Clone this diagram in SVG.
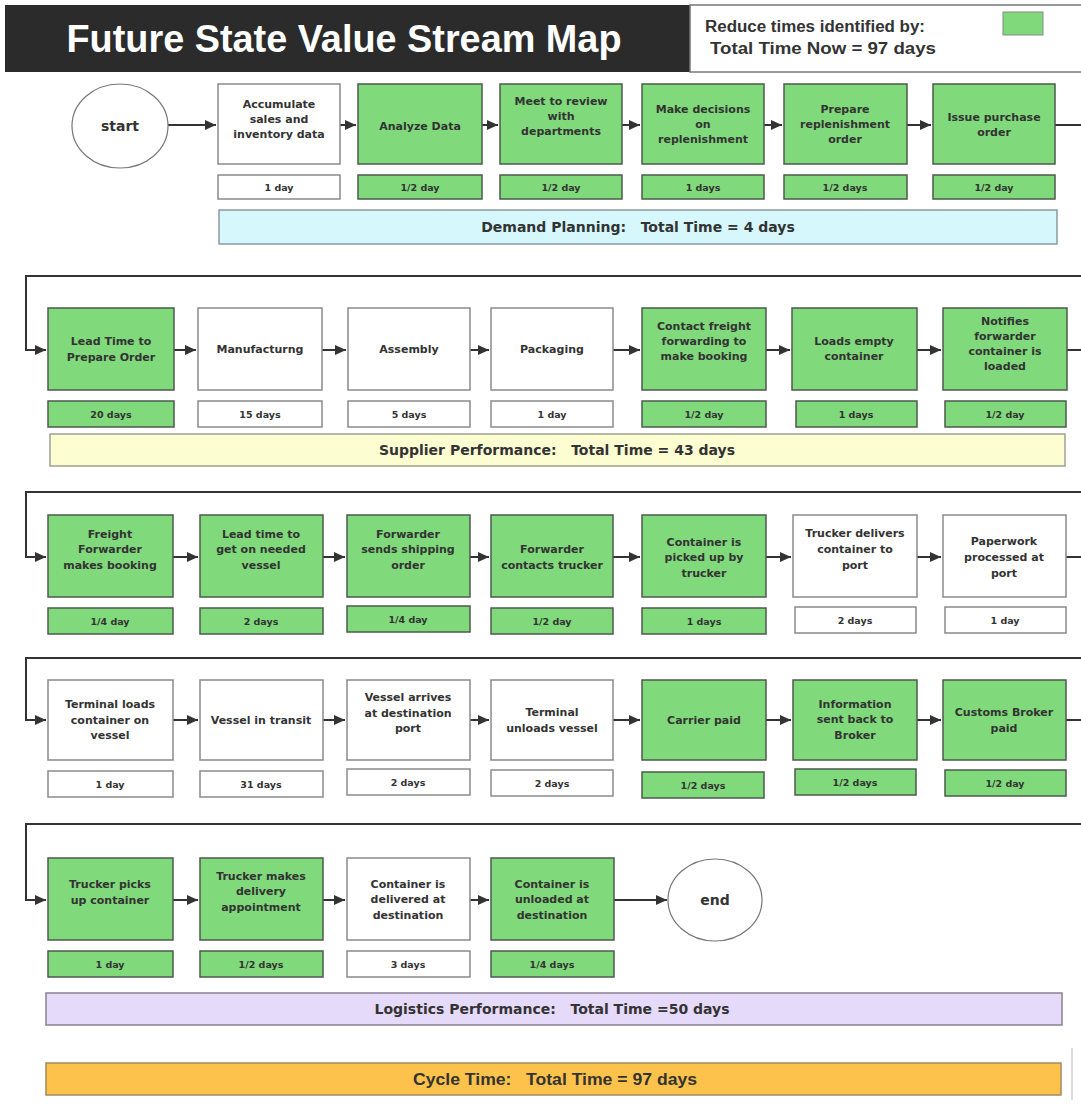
<svg xmlns="http://www.w3.org/2000/svg" width="1081" height="1115" viewBox="0 0 1081 1115" xml:space="preserve">
<defs>
<marker id="ah" markerWidth="12" markerHeight="12" refX="11" refY="6" orient="auto" markerUnits="userSpaceOnUse">
<path d="M0,1 L11,6 L0,11 Z" fill="#333"/>
</marker>
<style>
text{white-space:pre}
.g{fill:#80d97b;stroke:#4d5a4d;stroke-width:1.5}
.w{fill:#fff;stroke:#8a8a8a;stroke-width:1.5}
.t{font-family:"DejaVu Sans",Verdana,sans-serif;font-weight:bold;font-size:11px;fill:#333;text-anchor:middle}
.s{font-family:"DejaVu Sans",Verdana,sans-serif;font-weight:bold;font-size:9.5px;fill:#333;text-anchor:middle}
.b{font-family:"DejaVu Sans",Verdana,sans-serif;font-weight:bold;font-size:14px;fill:#333;text-anchor:middle}
.c{fill:none;stroke:#333;stroke-width:2}
.e{fill:#fff;stroke:#777;stroke-width:1.2}
</style>
</defs>
<g id="header"><rect x="5" y="5" width="685" height="67" fill="#2b2b2b"/><rect x="690" y="5" width="395" height="67" fill="#fff" stroke="#777" stroke-width="1.5"/><text x="344" y="52" font-family="Liberation Sans,Arial,sans-serif" font-weight="bold" font-size="38" fill="#fff" text-anchor="middle" textLength="555" lengthAdjust="spacingAndGlyphs">Future State Value Stream Map</text><text x="705" y="32" font-family="Liberation Sans,Arial,sans-serif" font-weight="bold" font-size="16" fill="#333" textLength="220" lengthAdjust="spacingAndGlyphs">Reduce times identified by:</text><text x="710" y="54" font-family="Liberation Sans,Arial,sans-serif" font-weight="bold" font-size="16" fill="#333" textLength="226" lengthAdjust="spacingAndGlyphs">Total Time Now = 97 days</text><rect x="1003" y="12" width="40" height="23" fill="#80d97b" stroke="#888" stroke-width="1"/></g>
<g id="connectors">
<line class="c" x1="168" y1="125" x2="216" y2="125" marker-end="url(#ah)"/>
<line class="c" x1="340" y1="125" x2="356" y2="125" marker-end="url(#ah)"/>
<line class="c" x1="482" y1="125" x2="498" y2="125" marker-end="url(#ah)"/>
<line class="c" x1="622" y1="125" x2="640" y2="125" marker-end="url(#ah)"/>
<line class="c" x1="764" y1="125" x2="782" y2="125" marker-end="url(#ah)"/>
<line class="c" x1="907" y1="125" x2="931" y2="125" marker-end="url(#ah)"/>
<line class="c" x1="1055" y1="125" x2="1081" y2="125"/>
<path class="c" d="M1081,276 L26,276 L26,350 L46,350" marker-end="url(#ah)"/>
<line class="c" x1="174" y1="350" x2="196" y2="350" marker-end="url(#ah)"/>
<line class="c" x1="322" y1="350" x2="346" y2="350" marker-end="url(#ah)"/>
<line class="c" x1="470" y1="350" x2="489" y2="350" marker-end="url(#ah)"/>
<line class="c" x1="613" y1="350" x2="640" y2="350" marker-end="url(#ah)"/>
<line class="c" x1="766" y1="350" x2="790" y2="350" marker-end="url(#ah)"/>
<line class="c" x1="917" y1="350" x2="941" y2="350" marker-end="url(#ah)"/>
<line class="c" x1="1067" y1="350" x2="1081" y2="350"/>
<path class="c" d="M1081,492 L26,492 L26,557 L46,557" marker-end="url(#ah)"/>
<line class="c" x1="173" y1="557" x2="198" y2="557" marker-end="url(#ah)"/>
<line class="c" x1="323" y1="557" x2="345" y2="557" marker-end="url(#ah)"/>
<line class="c" x1="470" y1="557" x2="489" y2="557" marker-end="url(#ah)"/>
<line class="c" x1="613" y1="557" x2="640" y2="557" marker-end="url(#ah)"/>
<line class="c" x1="766" y1="557" x2="791" y2="557" marker-end="url(#ah)"/>
<line class="c" x1="917" y1="557" x2="941" y2="557" marker-end="url(#ah)"/>
<line class="c" x1="1066" y1="557" x2="1081" y2="557"/>
<path class="c" d="M1081,658 L26,658 L26,720 L46,720" marker-end="url(#ah)"/>
<line class="c" x1="173" y1="720" x2="198" y2="720" marker-end="url(#ah)"/>
<line class="c" x1="323" y1="720" x2="345" y2="720" marker-end="url(#ah)"/>
<line class="c" x1="470" y1="720" x2="489" y2="720" marker-end="url(#ah)"/>
<line class="c" x1="613" y1="720" x2="640" y2="720" marker-end="url(#ah)"/>
<line class="c" x1="766" y1="720" x2="791" y2="720" marker-end="url(#ah)"/>
<line class="c" x1="917" y1="720" x2="941" y2="720" marker-end="url(#ah)"/>
<line class="c" x1="1066" y1="720" x2="1081" y2="720"/>
<path class="c" d="M1081,824 L26,824 L26,900 L46,900" marker-end="url(#ah)"/>
<line class="c" x1="173" y1="900" x2="198" y2="900" marker-end="url(#ah)"/>
<line class="c" x1="323" y1="900" x2="345" y2="900" marker-end="url(#ah)"/>
<line class="c" x1="470" y1="900" x2="489" y2="900" marker-end="url(#ah)"/>
<line class="c" x1="614" y1="900" x2="667" y2="900" marker-end="url(#ah)"/>
</g>
<g id="start"><ellipse class="e" cx="120" cy="126" rx="48" ry="42"/><text class="b" x="120" y="131">start</text></g>
<g id="n1"><rect class="w" x="218" y="84" width="122" height="80"/><text class="t" x="279" y="108">Accumulate</text><text class="t" x="279" y="123">sales and</text><text class="t" x="279" y="138">inventory data</text></g>
<g id="n1t"><rect class="w" x="218" y="175" width="122" height="24"/><text class="s" x="279" y="191">1 day</text></g>
<g id="n2"><rect class="g" x="358" y="84" width="124" height="80"/><text class="t" x="420" y="130">Analyze Data</text></g>
<g id="n2t"><rect class="g" x="358" y="175" width="124" height="24"/><text class="s" x="420" y="191">1/2 day</text></g>
<g id="n3"><rect class="g" x="500" y="84" width="122" height="80"/><text class="t" x="561" y="105">Meet to review</text><text class="t" x="561" y="120">with</text><text class="t" x="561" y="135">departments</text></g>
<g id="n3t"><rect class="g" x="500" y="175" width="122" height="24"/><text class="s" x="561" y="191">1/2 day</text></g>
<g id="n4"><rect class="g" x="642" y="84" width="122" height="80"/><text class="t" x="703" y="113">Make decisions</text><text class="t" x="703" y="128">on</text><text class="t" x="703" y="143">replenishment</text></g>
<g id="n4t"><rect class="g" x="642" y="175" width="122" height="24"/><text class="s" x="703" y="191">1 days</text></g>
<g id="n5"><rect class="g" x="784" y="84" width="123" height="80"/><text class="t" x="845" y="113">Prepare</text><text class="t" x="845" y="128">replenishment</text><text class="t" x="845" y="143">order</text></g>
<g id="n5t"><rect class="g" x="784" y="175" width="123" height="24"/><text class="s" x="845" y="191">1/2 days</text></g>
<g id="n6"><rect class="g" x="933" y="84" width="122" height="80"/><text class="t" x="994" y="121">Issue purchase</text><text class="t" x="994" y="136">order</text></g>
<g id="n6t"><rect class="g" x="933" y="175" width="122" height="24"/><text class="s" x="994" y="191">1/2 day</text></g>
<g id="bar1"><rect x="219" y="210" width="838" height="34" fill="#d6f7fc" stroke="#8a9a9e" stroke-width="1.5"/><text class="b" x="638" y="232">Demand Planning:   Total Time = 4 days</text></g>
<g id="r2a"><rect class="g" x="48" y="308" width="126" height="82"/><text class="t" x="111" y="345">Lead Time to</text><text class="t" x="111" y="361">Prepare Order</text></g>
<g id="r2at"><rect class="g" x="48" y="401" width="126" height="26"/><text class="s" x="111" y="418">20 days</text></g>
<g id="r2b"><rect class="w" x="198" y="308" width="124" height="82"/><text class="t" x="260" y="353">Manufacturng</text></g>
<g id="r2bt"><rect class="w" x="198" y="401" width="124" height="26"/><text class="s" x="260" y="418">15 days</text></g>
<g id="r2c"><rect class="w" x="348" y="308" width="122" height="82"/><text class="t" x="409" y="353">Assembly</text></g>
<g id="r2ct"><rect class="w" x="348" y="401" width="122" height="26"/><text class="s" x="409" y="418">5 days</text></g>
<g id="r2d"><rect class="w" x="491" y="308" width="122" height="82"/><text class="t" x="552" y="353">Packaging</text></g>
<g id="r2dt"><rect class="w" x="491" y="401" width="122" height="26"/><text class="s" x="552" y="418">1 day</text></g>
<g id="r2e"><rect class="g" x="642" y="308" width="124" height="82"/><text class="t" x="704" y="330">Contact freight</text><text class="t" x="704" y="345">forwarding to</text><text class="t" x="704" y="360">make booking</text></g>
<g id="r2et"><rect class="g" x="642" y="401" width="124" height="26"/><text class="s" x="704" y="418">1/2 day</text></g>
<g id="r2f"><rect class="g" x="792" y="308" width="125" height="82"/><text class="t" x="854" y="345">Loads empty</text><text class="t" x="854" y="360">container</text></g>
<g id="r2ft"><rect class="g" x="796" y="401" width="121" height="26"/><text class="s" x="856" y="418">1 days</text></g>
<g id="r2g"><rect class="g" x="943" y="308" width="124" height="82"/><text class="t" x="1005" y="325">Notifies</text><text class="t" x="1005" y="340">forwarder</text><text class="t" x="1005" y="355">container is</text><text class="t" x="1005" y="370">loaded</text></g>
<g id="r2gt"><rect class="g" x="945" y="401" width="121" height="26"/><text class="s" x="1005" y="418">1/2 day</text></g>
<g id="bar2"><rect x="50" y="434" width="1015" height="32" fill="#fdfdd2" stroke="#a0a090" stroke-width="1.5"/><text class="b" x="557" y="455">Supplier Performance:   Total Time = 43 days</text></g>
<g id="r3a"><rect class="g" x="48" y="515" width="125" height="82"/><text class="t" x="110" y="538">Freight</text><text class="t" x="110" y="553">Forwarder</text><text class="t" x="110" y="569">makes booking</text></g>
<g id="r3at"><rect class="g" x="48" y="608" width="125" height="26"/><text class="s" x="110" y="625">1/4 day</text></g>
<g id="r3b"><rect class="g" x="200" y="515" width="123" height="82"/><text class="t" x="261" y="538">Lead time to</text><text class="t" x="261" y="553">get on needed</text><text class="t" x="261" y="569">vessel</text></g>
<g id="r3bt"><rect class="g" x="200" y="608" width="123" height="26"/><text class="s" x="261" y="625">2 days</text></g>
<g id="r3c"><rect class="g" x="347" y="515" width="123" height="82"/><text class="t" x="408" y="538">Forwarder</text><text class="t" x="408" y="553">sends shipping</text><text class="t" x="408" y="569">order</text></g>
<g id="r3ct"><rect class="g" x="347" y="606" width="123" height="26"/><text class="s" x="408" y="623">1/4 day</text></g>
<g id="r3d"><rect class="g" x="491" y="515" width="122" height="82"/><text class="t" x="552" y="553">Forwarder</text><text class="t" x="552" y="569">contacts trucker</text></g>
<g id="r3dt"><rect class="g" x="491" y="608" width="122" height="26"/><text class="s" x="552" y="625">1/2 day</text></g>
<g id="r3e"><rect class="g" x="642" y="515" width="124" height="82"/><text class="t" x="704" y="546">Container is</text><text class="t" x="704" y="561">picked up by</text><text class="t" x="704" y="577">trucker</text></g>
<g id="r3et"><rect class="g" x="642" y="608" width="124" height="26"/><text class="s" x="704" y="625">1 days</text></g>
<g id="r3f"><rect class="w" x="793" y="515" width="124" height="82"/><text class="t" x="855" y="537">Trucker delivers</text><text class="t" x="855" y="553">container to</text><text class="t" x="855" y="569">port</text></g>
<g id="r3ft"><rect class="w" x="795" y="607" width="121" height="26"/><text class="s" x="855" y="624">2 days</text></g>
<g id="r3g"><rect class="w" x="943" y="515" width="123" height="82"/><text class="t" x="1004" y="545">Paperwork</text><text class="t" x="1004" y="561">processed at</text><text class="t" x="1004" y="577">port</text></g>
<g id="r3gt"><rect class="w" x="945" y="607" width="121" height="26"/><text class="s" x="1005" y="624">1 day</text></g>
<g id="r4a"><rect class="w" x="48" y="680" width="125" height="80"/><text class="t" x="110" y="708">Terminal loads</text><text class="t" x="110" y="724">container on</text><text class="t" x="110" y="739">vessel</text></g>
<g id="r4at"><rect class="w" x="48" y="771" width="125" height="26"/><text class="s" x="110" y="788">1 day</text></g>
<g id="r4b"><rect class="w" x="200" y="680" width="123" height="80"/><text class="t" x="261" y="724">Vessel in transit</text></g>
<g id="r4bt"><rect class="w" x="200" y="771" width="123" height="26"/><text class="s" x="261" y="788">31 days</text></g>
<g id="r4c"><rect class="w" x="347" y="680" width="123" height="80"/><text class="t" x="408" y="701">Vessel arrives</text><text class="t" x="408" y="717">at destination</text><text class="t" x="408" y="732">port</text></g>
<g id="r4ct"><rect class="w" x="347" y="769" width="123" height="26"/><text class="s" x="408" y="786">2 days</text></g>
<g id="r4d"><rect class="w" x="491" y="680" width="122" height="80"/><text class="t" x="552" y="716">Terminal</text><text class="t" x="552" y="732">unloads vessel</text></g>
<g id="r4dt"><rect class="w" x="491" y="770" width="122" height="26"/><text class="s" x="552" y="787">2 days</text></g>
<g id="r4e"><rect class="g" x="642" y="680" width="124" height="80"/><text class="t" x="704" y="724">Carrier paid</text></g>
<g id="r4et"><rect class="g" x="642" y="772" width="122" height="26"/><text class="s" x="703" y="789">1/2 days</text></g>
<g id="r4f"><rect class="g" x="793" y="680" width="124" height="80"/><text class="t" x="855" y="708">Information</text><text class="t" x="855" y="723">sent back to</text><text class="t" x="855" y="739">Broker</text></g>
<g id="r4ft"><rect class="g" x="795" y="769" width="121" height="26"/><text class="s" x="855" y="786">1/2 days</text></g>
<g id="r4g"><rect class="g" x="943" y="680" width="123" height="80"/><text class="t" x="1004" y="716">Customs Broker</text><text class="t" x="1004" y="732">paid</text></g>
<g id="r4gt"><rect class="g" x="945" y="770" width="121" height="26"/><text class="s" x="1005" y="787">1/2 day</text></g>
<g id="r5a"><rect class="g" x="48" y="858" width="125" height="82"/><text class="t" x="110" y="888">Trucker picks</text><text class="t" x="110" y="904">up container</text></g>
<g id="r5at"><rect class="g" x="48" y="951" width="125" height="26"/><text class="s" x="110" y="968">1 day</text></g>
<g id="r5b"><rect class="g" x="200" y="858" width="123" height="82"/><text class="t" x="261" y="880">Trucker makes</text><text class="t" x="261" y="895">delivery</text><text class="t" x="261" y="911">appointment</text></g>
<g id="r5bt"><rect class="g" x="200" y="951" width="123" height="26"/><text class="s" x="261" y="968">1/2 days</text></g>
<g id="r5c"><rect class="w" x="347" y="858" width="123" height="82"/><text class="t" x="408" y="888">Container is</text><text class="t" x="408" y="903">delivered at</text><text class="t" x="408" y="919">destination</text></g>
<g id="r5ct"><rect class="w" x="347" y="951" width="123" height="26"/><text class="s" x="408" y="968">3 days</text></g>
<g id="r5d"><rect class="g" x="491" y="858" width="123" height="82"/><text class="t" x="552" y="888">Container is</text><text class="t" x="552" y="903">unloaded at</text><text class="t" x="552" y="919">destination</text></g>
<g id="r5dt"><rect class="g" x="491" y="951" width="123" height="26"/><text class="s" x="552" y="968">1/4 days</text></g>
<g id="end"><ellipse class="e" cx="715" cy="900" rx="47" ry="41"/><text class="b" x="715" y="905">end</text></g>
<g id="bar3"><rect x="46" y="993" width="1016" height="32" fill="#e6dafa" stroke="#8a8090" stroke-width="1.5"/><text class="b" x="552" y="1014">Logistics Performance:   Total Time =50 days</text></g>
<g id="bar4"><rect x="46" y="1063" width="1015" height="32" fill="#fdc24c" stroke="#a08a60" stroke-width="1.5"/><text x="555" y="1085" font-family="Liberation Sans,Arial,sans-serif" font-weight="bold" font-size="16" fill="#333" text-anchor="middle" textLength="284" lengthAdjust="spacingAndGlyphs">Cycle Time:   Total Time = 97 days</text></g>
<line x1="1072" y1="1048" x2="1072" y2="1100" stroke="#bbb" stroke-width="1"/>
</svg>
